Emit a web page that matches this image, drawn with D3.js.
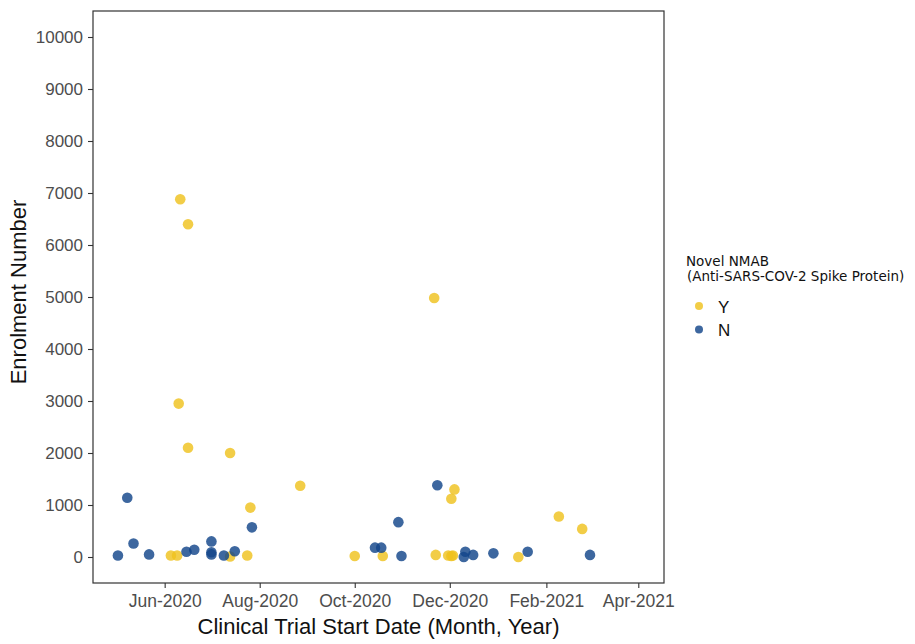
<!DOCTYPE html>
<html>
<head>
<meta charset="utf-8">
<script src="https://cdn.jsdelivr.net/npm/d3@7"></script>
<style>
  body { margin: 0; background: #fff; }
  svg { font-family: "Liberation Sans", Arial, sans-serif; }
</style>
</head>
<body>
<svg id="chart"></svg>
<script>
// trial start dates, enrolment and whether the mAb is novel (Y/N)
const startDates = [
  '2020-06-11', '2020-06-16', '2020-06-10', '2020-06-16', '2020-07-13', '2020-08-27',
  '2020-07-26', '2020-06-05', '2020-06-09', '2020-07-13', '2020-07-24', '2020-11-21',
  '2020-12-04', '2020-12-02', '2021-02-09', '2021-02-24', '2020-10-01', '2020-10-19',
  '2020-11-22', '2020-11-30', '2020-12-02', '2020-12-03', '2021-01-14',
  '2020-05-08', '2020-05-02', '2020-05-12', '2020-05-22', '2020-06-15', '2020-06-20',
  '2020-07-01', '2020-07-01', '2020-07-01', '2020-07-09', '2020-07-16', '2020-07-27',
  '2020-11-23', '2020-10-29', '2020-10-14', '2020-10-18', '2020-10-31', '2020-12-11',
  '2020-12-10', '2020-12-16', '2020-12-29', '2021-01-20', '2021-03-01'
]
const enrolment = [
  6880, 6400, 2950, 2100, 2000, 1370,
  950, 30, 30, 10, 30, 4980,
  1300, 1120, 780, 540, 20, 20,
  40, 30, 20, 30, 0,
  1140, 30, 260, 50, 100, 140,
  300, 90, 50, 30, 110, 570,
  1380, 670, 180, 180, 20, 100,
  0, 40, 70, 100, 40
]
const novelMab = [
  'Y', 'Y', 'Y', 'Y', 'Y', 'Y', 'Y', 'Y', 'Y', 'Y', 'Y', 'Y',
  'Y', 'Y', 'Y', 'Y', 'Y', 'Y', 'Y', 'Y', 'Y', 'Y', 'Y',
  'N', 'N', 'N', 'N', 'N', 'N', 'N', 'N', 'N', 'N', 'N', 'N',
  'N', 'N', 'N', 'N', 'N', 'N', 'N', 'N', 'N', 'N', 'N'
]
const groups = ['Y', 'N']
const groupColors = ['#efc21f', '#12468a']
const yTicks = d3.range(0, 10001, 1000)
const xTickDates = ['2020-06-01', '2020-08-01', '2020-10-01', '2020-12-01', '2021-02-01', '2021-04-01']

const width = 915, height = 644
const panel = {left: 93, top: 11, right: 664, bottom: 583}
const parse = d3.timeParse('%Y-%m-%d')

const points = startDates.map((d, i) => ({date: parse(d), value: enrolment[i], group: novelMab[i]}))

const svg = d3.select('#chart')
  .attr('width', width)
  .attr('height', height)

const x = d3.scaleTime()
  .domain([new Date(2020, 3, 16), new Date(2021, 3, 17, 12)])
  .range([panel.left, panel.right])
const y = d3.scaleLinear()
  .domain([-500, 10500])
  .range([panel.bottom, panel.top])
const color = d3.scaleOrdinal().domain(groups).range(groupColors)

// axes
const xAxis = svg.append('g')
  .attr('transform', `translate(0, ${panel.bottom})`)
  .call(d3.axisBottom(x)
    .tickValues(xTickDates.map(parse))
    .tickFormat(d3.timeFormat('%b-%Y'))
    .tickSize(5)
    .tickPadding(7))
const yAxis = svg.append('g')
  .attr('transform', `translate(${panel.left}, 0)`)
  .call(d3.axisLeft(y)
    .tickValues(yTicks)
    .tickFormat(d3.format('d'))
    .tickSize(5)
    .tickPadding(5))

;[xAxis, yAxis].forEach(ax => {
  ax.select('.domain').remove()
  ax.selectAll('.tick line').attr('stroke', '#333').attr('stroke-width', 1.1)
  ax.selectAll('.tick text')
    .attr('fill', '#4d4d4d')
    .style('font-size', '17.5px')
    .style('font-family', '"Liberation Sans", Arial, sans-serif')
})
yAxis.selectAll('.tick text').style('font-size', '17px')

// panel border
svg.append('rect')
  .attr('x', panel.left)
  .attr('y', panel.top)
  .attr('width', panel.right - panel.left)
  .attr('height', panel.bottom - panel.top)
  .attr('fill', 'none')
  .attr('stroke', '#333')
  .attr('stroke-width', 1.2)

// points
svg.append('g')
  .selectAll('circle')
  .data(points)
  .join('circle')
  .attr('cx', d => x(d.date))
  .attr('cy', d => y(d.value))
  .attr('r', 5.3)
  .attr('fill', d => color(d.group))
  .attr('fill-opacity', 0.82)

// axis titles
svg.append('text')
  .attr('x', (panel.left + panel.right) / 2)
  .attr('y', 634)
  .attr('text-anchor', 'middle')
  .style('font-size', '22px')
  .attr('fill', '#111')
  .text('Clinical Trial Start Date (Month, Year)')

svg.append('text')
  .attr('transform', `translate(26, 292) rotate(-90)`)
  .attr('text-anchor', 'middle')
  .style('font-size', '22px')
  .attr('fill', '#111')
  .text('Enrolment Number')

// legend
const legend = svg.append('g').attr('transform', 'translate(686, 0)')
  .style('font-family', '"DejaVu Sans", sans-serif')
legend.append('text')
  .attr('x', 0).attr('y', 266)
  .style('font-size', '13.5px')
  .attr('fill', '#111')
  .text('Novel NMAB')
legend.append('text')
  .attr('x', 1).attr('y', 281)
  .style('font-size', '13.5px')
  .attr('fill', '#111')
  .text('(Anti-SARS-COV-2 Spike Protein)')

const keys = legend.selectAll('g.key')
  .data(groups)
  .join('g')
  .classed('key', true)
  .attr('transform', (d, i) => `translate(0, ${306 + i * 23.5})`)
keys.append('circle')
  .attr('cx', 13)
  .attr('r', 4)
  .attr('fill', d => color(d))
  .attr('fill-opacity', 0.82)
keys.append('text')
  .attr('x', 32)
  .attr('y', 6.5)
  .style('font-size', '17px')
  .style('font-family', '"Liberation Sans", Arial, sans-serif')
  .attr('fill', '#111')
  .text(d => d)
</script>
</body>
</html>
